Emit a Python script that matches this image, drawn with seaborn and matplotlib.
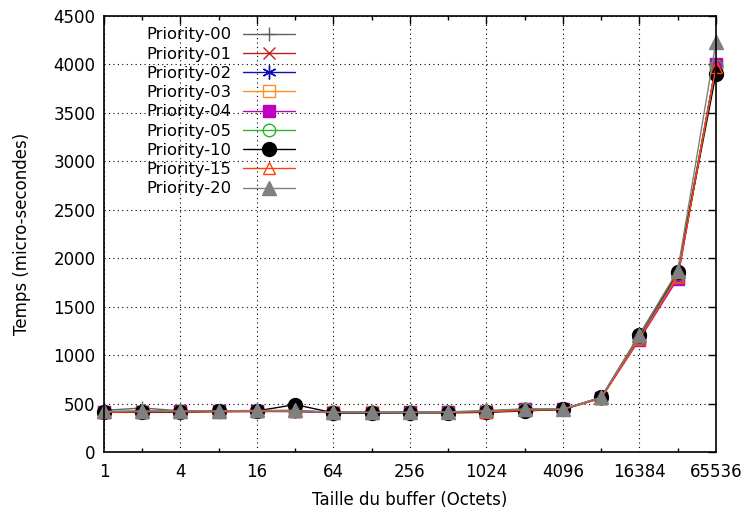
import matplotlib
matplotlib.use("Agg")
import matplotlib.pyplot as plt
import seaborn as sns
import pandas as pd
from matplotlib.ticker import FixedLocator, NullFormatter

sizes = [1, 2, 4, 8, 16, 32, 64, 128, 256, 512, 1024, 2048, 4096, 8192, 16384, 32768, 65536]
p00 = [430, 455, 425, 425, 425, 430, 410, 410, 410, 415, 420, 430, 440, 555, 1200, 1850, 3990]
p01 = [415, 420, 420, 420, 420, 420, 410, 410, 410, 410, 420, 440, 440, 560, 1180, 1820, 3990]
p02 = [415, 420, 420, 420, 420, 420, 410, 410, 410, 410, 420, 440, 440, 560, 1180, 1820, 3980]
p03 = [410, 415, 420, 420, 420, 420, 410, 410, 410, 410, 415, 440, 445, 555, 1170, 1800, 3990]
p04 = [410, 415, 420, 420, 420, 420, 405, 405, 410, 410, 415, 440, 445, 560, 1160, 1790, 4000]
p05 = [415, 420, 420, 420, 420, 425, 410, 410, 410, 410, 420, 445, 445, 560, 1180, 1820, 3980]
p10 = [410, 410, 410, 420, 425, 490, 405, 405, 405, 405, 410, 425, 440, 565, 1210, 1860, 3900]
p15 = [410, 415, 415, 415, 420, 425, 410, 410, 410, 410, 415, 430, 440, 555, 1170, 1810, 3970]
p20 = [420, 425, 425, 425, 430, 430, 410, 410, 410, 415, 430, 445, 445, 565, 1210, 1870, 4230]

names = ["Priority-00", "Priority-01", "Priority-02", "Priority-03", "Priority-04",
         "Priority-05", "Priority-10", "Priority-15", "Priority-20"]
series = [p00, p01, p02, p03, p04, p05, p10, p15, p20]
xticks = [1, 4, 16, 64, 256, 1024, 4096, 16384, 65536]
yticks = [0, 500, 1000, 1500, 2000, 2500, 3000, 3500, 4000, 4500]

colors = ["#606060", "#c02020", "#1010b0", "#ff9020", "#c000c0",
          "#30b030", "#000000", "#ff4010", "#808080"]
markers = ["+", "x", (6, 2, 0), "s", "s", "o", "o", "^", "^"]
filled = [True, True, True, False, True, False, True, False, True]
msizes = [10, 9, 10, 9, 8.5, 9, 10, 9, 10]

sns.set_style("white")
plt.rcParams["font.family"] = ["DejaVu Sans"]
plt.rcParams["text.color"] = "black"
plt.rcParams["axes.labelcolor"] = "black"
plt.rcParams["xtick.color"] = "black"
plt.rcParams["ytick.color"] = "black"

fig = plt.figure(figsize=(7.45, 5.12), dpi=100)
ax = fig.add_axes([0.1396, 0.117, 0.8214, 0.852])

for name, vals, c, m, f, ms in zip(names, series, colors, markers, filled, msizes):
    df = pd.DataFrame({"x": sizes, "y": vals})
    kw = dict(marker=m, markersize=ms, color=c, linewidth=1.0, clip_on=False)
    if f:
        kw.update(markerfacecolor=c, markeredgecolor=c, markeredgewidth=1.0)
    else:
        kw.update(markerfacecolor="none", markeredgecolor=c, markeredgewidth=1.0)
    sns.lineplot(data=df, x="x", y="y", ax=ax, label=name, **kw)

ax.set_xscale("log", base=2)
ax.set_xlim(1, 65536)
ax.set_ylim(0, 4500)
ax.xaxis.set_major_locator(FixedLocator(xticks))
ax.set_xticklabels([str(t) for t in xticks])
ax.xaxis.set_minor_locator(FixedLocator([2, 8, 32, 128, 512, 2048, 8192, 32768]))
ax.xaxis.set_minor_formatter(NullFormatter())
ax.set_yticks(yticks)
ax.set_yticklabels([str(t) for t in yticks])

ax.grid(True, which="major", linestyle=(0, (1, 3)), color="black", linewidth=0.8)
ax.tick_params(axis="both", which="major", direction="in", length=6, top=True, right=True,
               labelsize=12, width=1, colors="black")
ax.tick_params(axis="x", which="major", pad=8)
ax.tick_params(axis="y", which="major", pad=6)
ax.tick_params(axis="x", which="minor", direction="in", length=3, top=True, bottom=True, width=1)
for s in ax.spines.values():
    s.set_visible(True)
    s.set_color("black")
    s.set_linewidth(1.2)

ax.set_xlabel("Taille du buffer (Octets)", fontsize=12, labelpad=7, color="black")
ax.set_ylabel("Temps (micro-secondes)", fontsize=12, labelpad=16, color="black")

leg = ax.legend(loc="upper left", bbox_to_anchor=(0.05, 1.0), frameon=False, fontsize=11.8,
                markerfirst=False, handlelength=3.2, labelspacing=0.26, handletextpad=0.7,
                borderaxespad=0.3)
for t in leg.get_texts():
    t.set_color("black")

fig.savefig("out.png", dpi=100)
